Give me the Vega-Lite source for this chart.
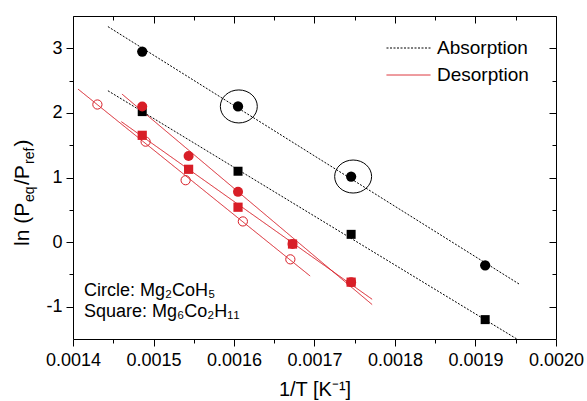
{
  "$schema": "https://vega.github.io/schema/vega-lite/v6.json",
  "width": 483,
  "height": 323,
  "autosize": {"type": "none"},
  "padding": {"left": 73, "top": 16, "right": 31, "bottom": 62},
  "config": {
    "font": "Liberation Sans",
    "view": {"stroke": null},
    "axis": {
      "domainColor": "black", "tickColor": "black", "labelColor": "black", "titleColor": "black",
      "grid": false, "domainWidth": 1, "tickWidth": 1,
      "labelFont": "Liberation Sans", "titleFont": "Liberation Sans",
      "labelFontSize": 18, "titleFontWeight": "normal"
    }
  },
  "datasets": {
    "points": [
      {"series": "abs_circle", "x": 0.001486, "y": 2.95},
      {"series": "abs_circle", "x": 0.001605, "y": 2.1},
      {"series": "abs_circle", "x": 0.0017455, "y": 1.015},
      {"series": "abs_circle", "x": 0.001912, "y": -0.36},
      {"series": "abs_square", "x": 0.001486, "y": 2.02},
      {"series": "abs_square", "x": 0.001605, "y": 1.097},
      {"series": "abs_square", "x": 0.0017455, "y": 0.12},
      {"series": "abs_square", "x": 0.001912, "y": -1.2},
      {"series": "des_circle", "x": 0.001486, "y": 2.1},
      {"series": "des_circle", "x": 0.0015436, "y": 1.334},
      {"series": "des_circle", "x": 0.001605, "y": 0.778},
      {"series": "des_circle", "x": 0.0016727, "y": -0.03},
      {"series": "des_circle", "x": 0.0017455, "y": -0.62},
      {"series": "des_square", "x": 0.001486, "y": 1.653},
      {"series": "des_square", "x": 0.0015436, "y": 1.127},
      {"series": "des_square", "x": 0.001605, "y": 0.54},
      {"series": "des_square", "x": 0.0016727, "y": -0.03},
      {"series": "des_square", "x": 0.0017455, "y": -0.62},
      {"series": "des_open", "x": 0.0014303, "y": 2.13},
      {"series": "des_open", "x": 0.0014902, "y": 1.555},
      {"series": "des_open", "x": 0.0015399, "y": 0.958},
      {"series": "des_open", "x": 0.001611, "y": 0.32},
      {"series": "des_open", "x": 0.00167, "y": -0.267}
    ],
    "fits": [
      {"fit": "a1", "process": "Absorption", "x": 0.0014434, "y": 3.336},
      {"fit": "a1", "process": "Absorption", "x": 0.0019553, "y": -0.658},
      {"fit": "a2", "process": "Absorption", "x": 0.0014434, "y": 2.343},
      {"fit": "a2", "process": "Absorption", "x": 0.0019553, "y": -1.53},
      {"fit": "d1", "process": "Desorption", "x": 0.0014608, "y": 2.292},
      {"fit": "d1", "process": "Desorption", "x": 0.0017716, "y": -0.967},
      {"fit": "d2", "process": "Desorption", "x": 0.0014601, "y": 1.864},
      {"fit": "d2", "process": "Desorption", "x": 0.0017716, "y": -0.885},
      {"fit": "d3", "process": "Desorption", "x": 0.0014062, "y": 2.369},
      {"fit": "d3", "process": "Desorption", "x": 0.0016946, "y": -0.525}
    ],
    "ellipses": [
      {"x": 0.001606, "y": 2.1},
      {"x": 0.001748, "y": 1.015}
    ],
    "notes": [
      {"label": "Circle: Mg₂CoH₅", "x": 0.0014137, "y": -0.834},
      {"label": "Square: Mg₆Co₂H₁₁", "x": 0.0014137, "y": -1.158}
    ],
    "ytitle": [
      {"x": 0.0013453, "y": -0.06}
    ]
  },
  "resolve": {"axis": {"x": "independent", "y": "independent"}},
  "layer": [
    {
      "data": {"name": "fits"},
      "mark": {"type": "line", "strokeWidth": 1, "clip": true},
      "encoding": {
        "x": {"field": "x", "type": "quantitative",
          "scale": {"domain": [0.0014, 0.002], "nice": false, "zero": false},
          "axis": {"orient": "bottom", "values": [0.0014, 0.0015, 0.0016, 0.0017, 0.0018, 0.0019, 0.002],
            "format": ".4f", "tickSize": 7, "labelPadding": 5, "labelFlush": false, "labelOverlap": false,
            "title": "1/T [K⁻¹]", "titleFontSize": 20, "titlePadding": 10}},
        "y": {"field": "y", "type": "quantitative",
          "scale": {"domain": [-1.5, 3.5], "nice": false, "zero": false},
          "axis": {"orient": "left", "values": [-1, 0, 1, 2, 3], "labelExpr": "'' + datum.value",
            "tickSize": 7, "labelPadding": 4, "labelFlush": false, "labelOverlap": false, "title": null}},
        "color": {"field": "process", "type": "nominal",
          "scale": {"domain": ["Absorption", "Desorption"], "range": ["black", "#d81e27"]},
          "legend": {"orient": "none", "legendX": 313, "legendY": 22, "title": null, "symbolType": "stroke",
            "symbolSize": 1936, "symbolStrokeWidth": 1, "labelFontSize": 19, "labelFont": "Liberation Sans",
            "labelColor": "black", "labelOffset": 6, "clipHeight": 20, "rowPadding": 7, "padding": 0}},
        "strokeDash": {"field": "process", "type": "nominal",
          "scale": {"domain": ["Absorption", "Desorption"], "range": [[2, 1.5], [1, 0]]},
          "legend": {"orient": "none", "legendX": 313, "legendY": 22, "title": null, "symbolType": "stroke",
            "symbolSize": 1936, "symbolStrokeWidth": 1, "labelFontSize": 19, "labelFont": "Liberation Sans",
            "labelColor": "black", "labelOffset": 6, "clipHeight": 20, "rowPadding": 7, "padding": 0}},
        "detail": {"field": "fit", "type": "nominal"}
      }
    },
    {
      "data": {"name": "points"},
      "mark": {"type": "point", "opacity": 0},
      "encoding": {
        "x": {"field": "x", "type": "quantitative",
          "scale": {"domain": [0.0014, 0.002], "nice": false, "zero": false},
          "axis": {"orient": "top", "values": [0.0014, 0.0015, 0.0016, 0.0017, 0.0018, 0.0019, 0.002],
            "tickSize": -7, "labels": false, "title": null}},
        "y": {"field": "y", "type": "quantitative",
          "scale": {"domain": [-1.5, 3.5], "nice": false, "zero": false},
          "axis": {"orient": "right", "values": [-1, 0, 1, 2, 3], "tickSize": -7, "labels": false, "title": null}}
      }
    },
    {
      "data": {"name": "points"},
      "mark": {"type": "point", "opacity": 0},
      "encoding": {
        "x": {"field": "x", "type": "quantitative",
          "scale": {"domain": [0.0014, 0.002], "nice": false, "zero": false},
          "axis": {"orient": "bottom", "values": [0.00145, 0.00155, 0.00165, 0.00175, 0.00185, 0.00195],
            "tickSize": 4, "labels": false, "domain": false, "title": null}},
        "y": {"field": "y", "type": "quantitative",
          "scale": {"domain": [-1.5, 3.5], "nice": false, "zero": false},
          "axis": {"orient": "left", "values": [-0.5, 0.5, 1.5, 2.5], "tickSize": 4, "labels": false, "domain": false, "title": null}}
      }
    },
    {
      "data": {"name": "points"},
      "mark": {"type": "point", "opacity": 0},
      "encoding": {
        "x": {"field": "x", "type": "quantitative",
          "scale": {"domain": [0.0014, 0.002], "nice": false, "zero": false},
          "axis": {"orient": "top", "values": [0.00145, 0.00155, 0.00165, 0.00175, 0.00185, 0.00195],
            "tickSize": -4, "labels": false, "domain": false, "title": null}},
        "y": {"field": "y", "type": "quantitative",
          "scale": {"domain": [-1.5, 3.5], "nice": false, "zero": false},
          "axis": {"orient": "right", "values": [-0.5, 0.5, 1.5, 2.5], "tickSize": -4, "labels": false, "domain": false, "title": null}}
      }
    },
    {
      "data": {"name": "points"},
      "transform": [{"filter": "datum.series == 'abs_circle'"}],
      "mark": {"type": "point", "shape": "circle", "filled": true, "color": "black", "size": 105, "opacity": 1},
      "encoding": {
        "x": {"field": "x", "type": "quantitative", "scale": {"domain": [0.0014, 0.002], "nice": false, "zero": false}, "axis": null},
        "y": {"field": "y", "type": "quantitative", "scale": {"domain": [-1.5, 3.5], "nice": false, "zero": false}, "axis": null}
      }
    },
    {
      "data": {"name": "points"},
      "transform": [{"filter": "datum.series == 'abs_square'"}],
      "mark": {"type": "point", "shape": "square", "filled": true, "color": "black", "size": 81, "opacity": 1},
      "encoding": {
        "x": {"field": "x", "type": "quantitative", "scale": {"domain": [0.0014, 0.002], "nice": false, "zero": false}, "axis": null},
        "y": {"field": "y", "type": "quantitative", "scale": {"domain": [-1.5, 3.5], "nice": false, "zero": false}, "axis": null}
      }
    },
    {
      "data": {"name": "points"},
      "transform": [{"filter": "datum.series == 'des_circle'"}],
      "mark": {"type": "point", "shape": "circle", "filled": true, "color": "#d81e27", "size": 100, "opacity": 1},
      "encoding": {
        "x": {"field": "x", "type": "quantitative", "scale": {"domain": [0.0014, 0.002], "nice": false, "zero": false}, "axis": null},
        "y": {"field": "y", "type": "quantitative", "scale": {"domain": [-1.5, 3.5], "nice": false, "zero": false}, "axis": null}
      }
    },
    {
      "data": {"name": "points"},
      "transform": [{"filter": "datum.series == 'des_square'"}],
      "mark": {"type": "point", "shape": "square", "filled": true, "color": "#d81e27", "size": 85, "opacity": 1},
      "encoding": {
        "x": {"field": "x", "type": "quantitative", "scale": {"domain": [0.0014, 0.002], "nice": false, "zero": false}, "axis": null},
        "y": {"field": "y", "type": "quantitative", "scale": {"domain": [-1.5, 3.5], "nice": false, "zero": false}, "axis": null}
      }
    },
    {
      "data": {"name": "points"},
      "transform": [{"filter": "datum.series == 'des_open'"}],
      "mark": {"type": "point", "shape": "circle", "filled": false, "color": "#d81e27", "size": 85, "strokeWidth": 1, "opacity": 1},
      "encoding": {
        "x": {"field": "x", "type": "quantitative", "scale": {"domain": [0.0014, 0.002], "nice": false, "zero": false}, "axis": null},
        "y": {"field": "y", "type": "quantitative", "scale": {"domain": [-1.5, 3.5], "nice": false, "zero": false}, "axis": null}
      }
    },
    {
      "data": {"name": "ellipses"},
      "mark": {"type": "point", "shape": "M -1.12 0 A 1.12 1 0 1 0 1.12 0 A 1.12 1 0 1 0 -1.12 0 Z", "filled": false, "color": "black", "size": 1089, "strokeWidth": 1, "opacity": 1},
      "encoding": {
        "x": {"field": "x", "type": "quantitative", "scale": {"domain": [0.0014, 0.002], "nice": false, "zero": false}, "axis": null},
        "y": {"field": "y", "type": "quantitative", "scale": {"domain": [-1.5, 3.5], "nice": false, "zero": false}, "axis": null}
      }
    },
    {
      "data": {"name": "notes"},
      "mark": {"type": "text", "align": "left", "baseline": "alphabetic", "fontSize": 18, "color": "black", "font": "Liberation Sans"},
      "encoding": {
        "x": {"field": "x", "type": "quantitative", "scale": {"domain": [0.0014, 0.002], "nice": false, "zero": false}, "axis": null},
        "y": {"field": "y", "type": "quantitative", "scale": {"domain": [-1.5, 3.5], "nice": false, "zero": false}, "axis": null},
        "text": {"field": "label"}
      }
    },
    {
      "data": {"name": "ytitle"},
      "mark": {"type": "text", "text": "ln (P", "angle": 270, "align": "left", "baseline": "alphabetic", "fontSize": 21, "color": "black", "font": "Liberation Sans", "dx": 0, "dy": 0},
      "encoding": {
        "x": {"field": "x", "type": "quantitative", "scale": {"domain": [0.0014, 0.002], "nice": false, "zero": false}, "axis": null},
        "y": {"field": "y", "type": "quantitative", "scale": {"domain": [-1.5, 3.5], "nice": false, "zero": false}, "axis": null}
      }
    },
    {
      "data": {"name": "ytitle"},
      "mark": {"type": "text", "text": "eq", "angle": 270, "align": "left", "baseline": "alphabetic", "fontSize": 14, "color": "black", "font": "Liberation Sans", "dx": 44, "dy": 5},
      "encoding": {
        "x": {"field": "x", "type": "quantitative", "scale": {"domain": [0.0014, 0.002], "nice": false, "zero": false}, "axis": null},
        "y": {"field": "y", "type": "quantitative", "scale": {"domain": [-1.5, 3.5], "nice": false, "zero": false}, "axis": null}
      }
    },
    {
      "data": {"name": "ytitle"},
      "mark": {"type": "text", "text": "/P", "angle": 270, "align": "left", "baseline": "alphabetic", "fontSize": 21, "color": "black", "font": "Liberation Sans", "dx": 61, "dy": 0},
      "encoding": {
        "x": {"field": "x", "type": "quantitative", "scale": {"domain": [0.0014, 0.002], "nice": false, "zero": false}, "axis": null},
        "y": {"field": "y", "type": "quantitative", "scale": {"domain": [-1.5, 3.5], "nice": false, "zero": false}, "axis": null}
      }
    },
    {
      "data": {"name": "ytitle"},
      "mark": {"type": "text", "text": "ref", "angle": 270, "align": "left", "baseline": "alphabetic", "fontSize": 14, "color": "black", "font": "Liberation Sans", "dx": 82, "dy": 5},
      "encoding": {
        "x": {"field": "x", "type": "quantitative", "scale": {"domain": [0.0014, 0.002], "nice": false, "zero": false}, "axis": null},
        "y": {"field": "y", "type": "quantitative", "scale": {"domain": [-1.5, 3.5], "nice": false, "zero": false}, "axis": null}
      }
    },
    {
      "data": {"name": "ytitle"},
      "mark": {"type": "text", "text": ")", "angle": 270, "align": "left", "baseline": "alphabetic", "fontSize": 21, "color": "black", "font": "Liberation Sans", "dx": 99.5, "dy": 0},
      "encoding": {
        "x": {"field": "x", "type": "quantitative", "scale": {"domain": [0.0014, 0.002], "nice": false, "zero": false}, "axis": null},
        "y": {"field": "y", "type": "quantitative", "scale": {"domain": [-1.5, 3.5], "nice": false, "zero": false}, "axis": null}
      }
    }
  ]
}
